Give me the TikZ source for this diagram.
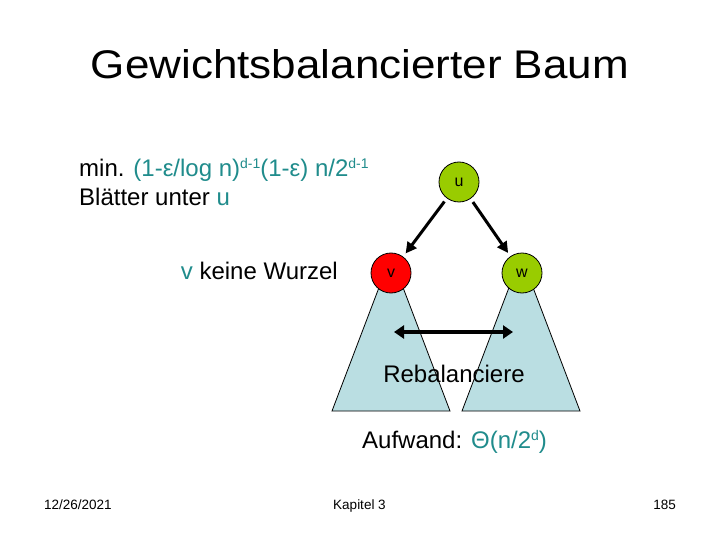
\documentclass[tikz,border=0pt]{standalone}
\usepackage{fontspec}
\setmainfont{Liberation Sans}
\usetikzlibrary{arrows.meta}
\definecolor{tealtext}{RGB}{32,140,140}
\definecolor{nodegreen}{RGB}{153,204,0}
\definecolor{nodered}{RGB}{255,0,0}
\definecolor{treeblue}{RGB}{186,222,226}
\tikzset{
  treenode/.style={circle, draw=black, line width=0.8pt, minimum size=40pt, inner sep=0pt, font=\fontsize{16}{18}\selectfont},
  subtree/.style={draw=black, fill=treeblue, line width=0.8pt, line join=miter},
  childarrow/.style={line width=3pt, -{Triangle[length=11pt,width=11pt]}, shorten >=4pt, shorten <=4pt},
  swaparrow/.style={line width=4pt, {Triangle[length=10pt,width=13pt]}-{Triangle[length=10pt,width=13pt]}},
  bodytext/.style={inner sep=0pt, font=\fontsize{24}{29}\selectfont},
  foottext/.style={inner sep=0pt, font=\fontsize{13.5}{16}\selectfont}
}
\newcommand{\hi}[1]{\textcolor{tealtext}{#1}}
\newcommand{\supx}[1]{\raisebox{8pt}{\fontsize{14}{16}\selectfont #1}}
\begin{document}
\begin{tikzpicture}[x=1pt,y=-1pt]
\useasboundingbox (0,0) rectangle (720,540);
\fill[white] (0,0) rectangle (720,540);

% title
\node[anchor=base, inner sep=0pt] (title) at (360,79)
  {\scalebox{1.1}[1]{\fontsize{40}{44}\selectfont Gewichtsbalancierter Baum}};

% left text
\node[bodytext, anchor=base west] (line1) at (79,177)
  {min. \hi{(1-ε/log n)\supx{d-1}(1-ε) n/2\supx{d-1}}};
\node[bodytext, anchor=base west] (line2) at (79,206)
  {Blätter unter \hi{u}};
\node[bodytext, anchor=base east] (vnote) at (338,279)
  {\hi{v} keine Wurzel};

% subtrees
\filldraw[subtree] (332,411) -- (391,256) -- (450,411) -- cycle;
\filldraw[subtree] (462,411) -- (521,256) -- (580,411) -- cycle;

% nodes
\node[treenode, fill=nodegreen] (u) at (459,182) {u};
\node[treenode, fill=nodered] (v) at (391,273) {v};
\node[treenode, fill=nodegreen] (w) at (522,273) {w};

\draw[childarrow] (u) -- (v);
\draw[childarrow] (u) -- (w);

% swap arrow
\coordinate (sl) at (394,332);
\coordinate (sr) at (513,332);
\draw[swaparrow] (sl) -- (sr);

\node[bodytext, anchor=base] (reb) at (454,382) {Rebalanciere};
\node[bodytext, anchor=base west] (cost) at (362,448)
  {Aufwand: \hi{Θ(n/2\supx{d})}};

% footer
\node[foottext, anchor=base west] (date) at (44,509) {12/26/2021};
\node[foottext, anchor=base] (chap) at (359.5,509) {Kapitel 3};
\node[foottext, anchor=base east] (page) at (676,509) {185};
\end{tikzpicture}
\end{document}
